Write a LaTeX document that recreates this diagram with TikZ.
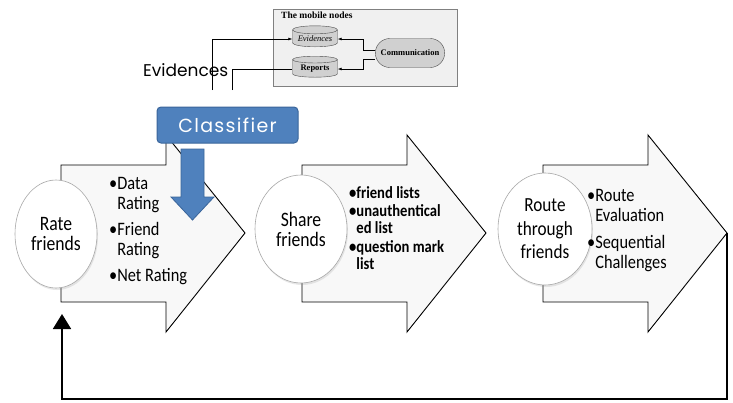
\documentclass[tikz,border=0pt]{standalone}
\usepackage{fontspec}
\usepackage{tikz}
\usetikzlibrary{arrows.meta,positioning,shapes.geometric,shapes.misc,shadows}
\newfontfamily\bodyfont[FakeStretch=0.86]{Carlito}
\newfontfamily\headfont[LetterSpace=7]{Poppins}
\newfontfamily\plainhead{Poppins}
\newfontfamily\paperfont{Liberation Serif}
\definecolor{StepBlue}{HTML}{4F81BD}
\definecolor{StepBlueDark}{HTML}{3A659A}
\definecolor{StepFill}{HTML}{F8F8F8}
\definecolor{StepRim}{HTML}{A8A8A8}
\definecolor{InsetFill}{HTML}{F0F0F0}
\definecolor{InsetGray}{HTML}{D0D0D0}
\tikzset{
  stagearrow/.style={draw=black, fill=StepFill, line width=0.9pt, line join=miter},
  friendbubble/.style={ellipse, draw=StepRim, fill=white, line width=0.6pt, align=center,
                       inner sep=0pt, font=\bodyfont\fontsize{20.5}{20}\selectfont,
                       drop shadow={opacity=0.18, shadow xshift=1pt, shadow yshift=-2pt}},
  pointlist/.style={align=left, inner sep=0pt, anchor=north west,
                    font=\bodyfont\fontsize{19}{20.5}\selectfont},
  boldlist/.style={pointlist, font=\bodyfont\bfseries\fontsize{17}{16.5}\selectfont},
  classbox/.style={rectangle, rounded corners=4pt, fill=StepBlue, draw=StepBlueDark,
                   line width=1pt, minimum width=141pt, minimum height=36pt, text=white,
                   font=\headfont\fontsize{19}{19}\selectfont},
  classdrop/.style={fill=StepBlue, draw=StepBlueDark, line width=0.8pt},
  loopback/.style={-{Triangle[length=15pt,width=18pt]}, line width=1.8pt, draw=black},
  % the small "mobile nodes" panel
  insetframe/.style={draw=gray, fill=InsetFill, line width=0.8pt},
  store/.style={cylinder, shape border rotate=90, aspect=0.22, draw=black!70, fill=InsetGray,
                minimum width=45pt, minimum height=21pt, inner sep=1pt,
                font=\paperfont\fontsize{8.5}{8.5}\selectfont},
  talker/.style={rounded rectangle, draw=black!70, fill=InsetGray, minimum width=76pt,
                 minimum height=29pt, font=\paperfont\bfseries\fontsize{8.5}{9}\selectfont},
  insetflow/.style={-{Latex[length=4pt,width=3pt]}, line width=0.6pt},
  insetline/.style={line width=0.6pt},
}

\begin{document}
\begin{tikzpicture}[x=1pt,y=-1pt]
  \fill[white] (0,0) rectangle (733,402);
  \useasboundingbox (0,0) rectangle (733,402);

  % mobile nodes panel
  \draw[insetframe] (273,9) rectangle (457,86);
  \node[anchor=north west, inner sep=0pt, font=\paperfont\bfseries\fontsize{9.5}{9.5}\selectfont]
    (paneltitle) at (281,12) {The mobile nodes};
  \node[store] (evid) at (315,39) {\itshape Evidences};
  \node[store] (rep) at (315,69) {\bfseries Reports};
  \node[talker] (comm) at (410,53) {Communication};
  \draw[insetflow] ([yshift=3pt]comm.west) -- ++(-12,0) |- (evid.east);
  \draw[insetflow] ([yshift=-6pt]comm.west) -- ++(-12,0) |- (rep.east);
  \coordinate (evfoot) at (212,90);
  \coordinate (repfoot) at (232,90);
  \draw[insetflow] (evfoot) |- (evid.west);
  \draw[insetline] (repfoot) |- (rep.west);

  % three stage arrows
  \draw[stagearrow] (61,165) -- (166,165) -- (166,135) -- (245,233) -- (166,332) -- (166,302) -- (61,302) -- cycle;
  \draw[stagearrow] (302,165) -- (407,165) -- (407,135) -- (486,233) -- (407,332) -- (407,302) -- (302,302) -- cycle;
  \draw[stagearrow] (543,165) -- (648,165) -- (648,135) -- (727,233) -- (648,332) -- (648,302) -- (543,302) -- cycle;
  \coordinate (tip3) at (727,233);

  \node[friendbubble, minimum width=82pt, minimum height=108pt] (rate) at (56,234) {Rate\\friends};
  \node[friendbubble, minimum width=92pt, minimum height=108pt] (share) at (301,229) {Share\\friends};
  \node[friendbubble, minimum width=94pt, minimum height=112pt,
        font=\bodyfont\fontsize{20}{23.5}\selectfont] (route) at (545,229) {Route\\through\\friends};

  \node[pointlist] (ratelist) at (109,177)
    {•Data\\\phantom{•}Rating\\[5pt]•Friend\\\phantom{•}Rating\\[5pt]•Net Rating};
  \node[boldlist] (sharelist) at (349,186)
    {•friend lists\\[2pt]•unauthentical\\\phantom{•}ed list\\[3pt]•question mark\\\phantom{•}list};
  \node[pointlist] (routelist) at (587,189)
    {•Route\\\phantom{•}Evaluation\\[6pt]•Sequential\\\phantom{•}Challenges};

  % classifier feeding the first stage
  \node[classbox] (classifier) at (227.5,125) {Classifier};
  \draw[classdrop] (181,149) -- (204,149) -- (204,197) -- (214,197) -- (192.5,220) -- (171,197) -- (181,197) -- cycle;

  \node[anchor=base west, inner sep=0pt, font=\plainhead\fontsize{17}{17}\selectfont]
    (evlabel) at (143,76) {Evidences};

  % back to the start
  \coordinate (loopend) at (62,314);
  \draw[loopback] (tip3) -- ++(0,166) -| (loopend);
\end{tikzpicture}
\end{document}
